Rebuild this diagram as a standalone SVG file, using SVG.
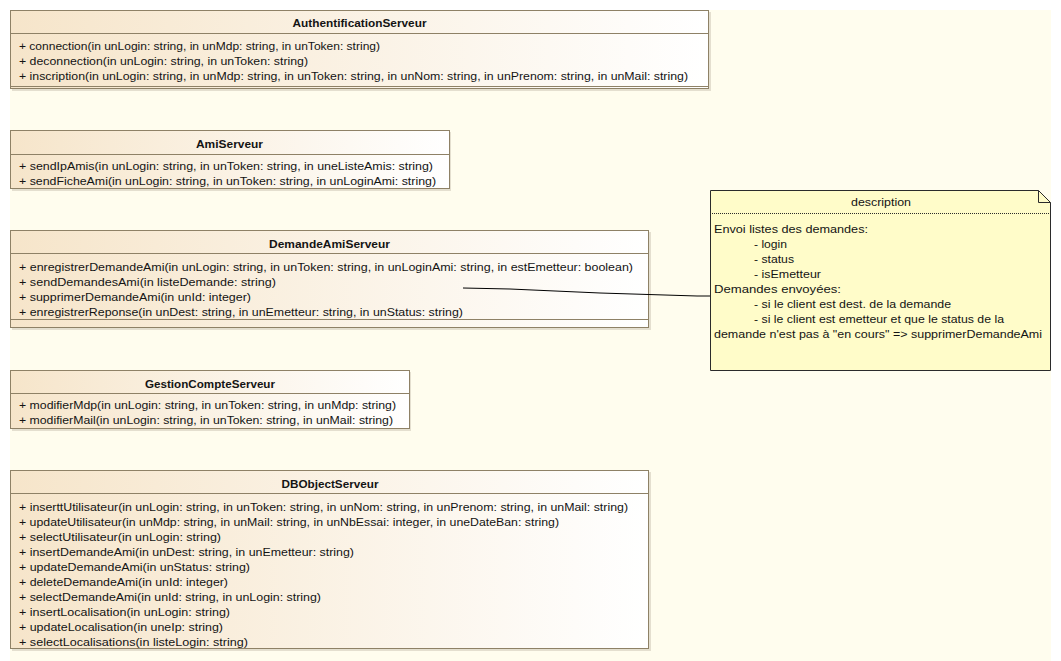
<svg xmlns="http://www.w3.org/2000/svg" width="1061" height="661" viewBox="0 0 1061 661">
<style>
text{font-family:"Liberation Sans",Arial,sans-serif;font-size:11px;fill:#141414}
.h{font-weight:bold;text-anchor:middle}
.box{fill:url(#cls);stroke:#8e8166;stroke-width:1}
.sep{stroke:#8e8166;stroke-width:1;fill:none}
.sh{fill:#e4dfcf}
.note{fill:#fffcc9;stroke:#2b2b2b;stroke-width:1}
.conn{fill:none;stroke:#000;stroke-width:1}
</style>
<defs>
<linearGradient id="cls" x1="0" y1="0" x2="1" y2="0">
<stop offset="0" stop-color="#f6e5ca"/>
<stop offset="1" stop-color="#ffffff"/>
</linearGradient>
</defs>
<rect x="0" y="0" width="1061" height="661" fill="#ffffff"/>
<rect x="10" y="10" width="1041" height="651" fill="#fffdee"/>

<g id="AuthentificationServeur">
<rect class="sh" x="12" y="12" width="699" height="79"/>
<rect class="box" x="10.5" y="10.5" width="698" height="78"/>
<line class="sep" x1="10.5" y1="33.5" x2="708.5" y2="33.5"/>
<line class="sep" x1="10.5" y1="86.5" x2="708.5" y2="86.5"/>
<text class="h" x="359.5" y="26.5" textLength="134" lengthAdjust="spacingAndGlyphs">AuthentificationServeur</text>
<text x="19" y="49.5" textLength="361" lengthAdjust="spacingAndGlyphs">+ connection(in unLogin: string, in unMdp: string, in unToken: string)</text>
<text x="19" y="65" textLength="289" lengthAdjust="spacingAndGlyphs">+ deconnection(in unLogin: string, in unToken: string)</text>
<text x="19" y="80" textLength="669" lengthAdjust="spacingAndGlyphs">+ inscription(in unLogin: string, in unMdp: string, in unToken: string, in unNom: string, in unPrenom: string, in unMail: string)</text>
</g>

<g id="AmiServeur">
<rect class="sh" x="12" y="132" width="439" height="59"/>
<rect class="box" x="10.5" y="130.5" width="439" height="58"/>
<line class="sep" x1="10.5" y1="154.5" x2="449.5" y2="154.5"/>
<text class="h" x="229.5" y="147.5" textLength="67" lengthAdjust="spacingAndGlyphs">AmiServeur</text>
<text x="19" y="169.5" textLength="414" lengthAdjust="spacingAndGlyphs">+ sendIpAmis(in unLogin: string, in unToken: string, in uneListeAmis: string)</text>
<text x="19" y="185" textLength="417" lengthAdjust="spacingAndGlyphs">+ sendFicheAmi(in unLogin: string, in unToken: string, in unLoginAmi: string)</text>
</g>

<g id="DemandeAmiServeur">
<rect class="sh" x="12" y="232" width="639" height="98"/>
<rect class="box" x="10.5" y="230.5" width="638" height="97"/>
<line class="sep" x1="10.5" y1="253.5" x2="648.5" y2="253.5"/>
<line class="sep" x1="10.5" y1="319.5" x2="648.5" y2="319.5"/>
<text class="h" x="329.5" y="247.5" textLength="121" lengthAdjust="spacingAndGlyphs">DemandeAmiServeur</text>
<text x="19" y="270.5" textLength="614" lengthAdjust="spacingAndGlyphs">+ enregistrerDemandeAmi(in unLogin: string, in unToken: string, in unLoginAmi: string, in estEmetteur: boolean)</text>
<text x="19" y="285.5" textLength="257" lengthAdjust="spacingAndGlyphs">+ sendDemandesAmi(in listeDemande: string)</text>
<text x="19" y="300.5" textLength="232" lengthAdjust="spacingAndGlyphs">+ supprimerDemandeAmi(in unId: integer)</text>
<text x="19" y="315.5" textLength="444" lengthAdjust="spacingAndGlyphs">+ enregistrerReponse(in unDest: string, in unEmetteur: string, in unStatus: string)</text>
</g>

<g id="GestionCompteServeur">
<rect class="sh" x="12" y="372" width="399" height="59"/>
<rect class="box" x="10.5" y="370.5" width="399" height="58"/>
<line class="sep" x1="10.5" y1="393.5" x2="409.5" y2="393.5"/>
<text class="h" x="210" y="387.5" textLength="130" lengthAdjust="spacingAndGlyphs">GestionCompteServeur</text>
<text x="19" y="409" textLength="377" lengthAdjust="spacingAndGlyphs">+ modifierMdp(in unLogin: string, in unToken: string, in unMdp: string)</text>
<text x="19" y="424" textLength="374" lengthAdjust="spacingAndGlyphs">+ modifierMail(in unLogin: string, in unToken: string, in unMail: string)</text>
</g>

<g id="DBObjectServeur">
<rect class="sh" x="12" y="472" width="639" height="179"/>
<rect class="box" x="10.5" y="470.5" width="638" height="178"/>
<line class="sep" x1="10.5" y1="493.5" x2="648.5" y2="493.5"/>
<text class="h" x="330" y="487.5" textLength="97" lengthAdjust="spacingAndGlyphs">DBObjectServeur</text>
<text x="19" y="510.5" textLength="609" lengthAdjust="spacingAndGlyphs">+ inserttUtilisateur(in unLogin: string, in unToken: string, in unNom: string, in unPrenom: string, in unMail: string)</text>
<text x="19" y="525.5" textLength="540" lengthAdjust="spacingAndGlyphs">+ updateUtilisateur(in unMdp: string, in unMail: string, in unNbEssai: integer, in uneDateBan: string)</text>
<text x="19" y="540.5" textLength="202" lengthAdjust="spacingAndGlyphs">+ selectUtilisateur(in unLogin: string)</text>
<text x="19" y="555.5" textLength="335" lengthAdjust="spacingAndGlyphs">+ insertDemandeAmi(in unDest: string, in unEmetteur: string)</text>
<text x="19" y="570.5" textLength="231" lengthAdjust="spacingAndGlyphs">+ updateDemandeAmi(in unStatus: string)</text>
<text x="19" y="585.5" textLength="209" lengthAdjust="spacingAndGlyphs">+ deleteDemandeAmi(in unId: integer)</text>
<text x="19" y="600.5" textLength="302" lengthAdjust="spacingAndGlyphs">+ selectDemandeAmi(in unId: string, in unLogin: string)</text>
<text x="19" y="615.5" textLength="211" lengthAdjust="spacingAndGlyphs">+ insertLocalisation(in unLogin: string)</text>
<text x="19" y="630.5" textLength="204" lengthAdjust="spacingAndGlyphs">+ updateLocalisation(in uneIp: string)</text>
<text x="19" y="645.5" textLength="229" lengthAdjust="spacingAndGlyphs">+ selectLocalisations(in listeLogin: string)</text>
</g>

<g id="description">
<path class="note" d="M710.5,190.5 H1038.5 L1050.5,202.5 V370.5 H710.5 Z"/>
<path fill="none" stroke="#2b2b2b" stroke-width="1" d="M1038.5,190.5 V202.5 H1050.5"/>
<line x1="712" y1="213.5" x2="1049" y2="213.5" stroke="#2b2b2b" stroke-width="1" stroke-dasharray="1,1"/>
<text x="881" y="206" text-anchor="middle" textLength="60" lengthAdjust="spacingAndGlyphs">description</text>
<text x="714" y="233" textLength="154" lengthAdjust="spacingAndGlyphs">Envoi listes des demandes:</text>
<text x="754" y="248" textLength="33" lengthAdjust="spacingAndGlyphs">- login</text>
<text x="754" y="263" textLength="40" lengthAdjust="spacingAndGlyphs">- status</text>
<text x="754" y="278" textLength="67" lengthAdjust="spacingAndGlyphs">- isEmetteur</text>
<text x="714" y="293" textLength="127" lengthAdjust="spacingAndGlyphs">Demandes envoyées:</text>
<text x="754" y="308" textLength="197" lengthAdjust="spacingAndGlyphs">- si le client est dest. de la demande</text>
<text x="754" y="323" textLength="250" lengthAdjust="spacingAndGlyphs">- si le client est emetteur et que le status de la</text>
<text x="714" y="338" textLength="328" lengthAdjust="spacingAndGlyphs">demande n'est pas à "en cours" =&gt; supprimerDemandeAmi</text>
</g>

<g id="connectors">
<polyline class="conn" points="463,288 510,289 600,293 697,296 710,296"/>
</g>
</svg>
